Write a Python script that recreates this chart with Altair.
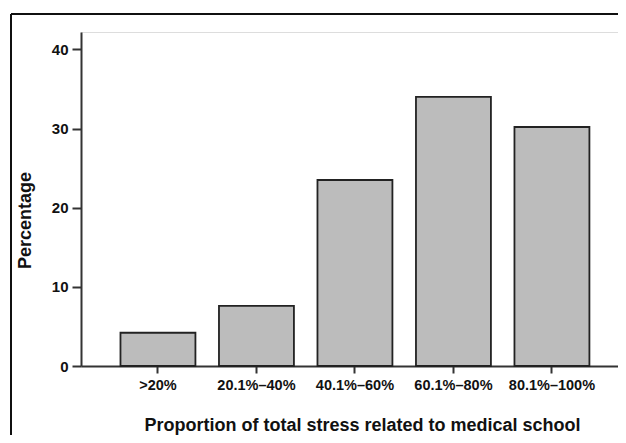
import altair as alt
import pandas as pd

categories = [">20%", "20.1%\u201340%", "40.1%\u201360%", "60.1%\u201380%", "80.1%\u2013100%"]
percentages = [4.2, 7.6, 23.5, 34.0, 30.2]
y_ticks = [0, 10, 20, 30, 40]

df = pd.DataFrame({"cat": categories, "pct": percentages})

FONT = "Liberation Sans"
W, H = 537, 334

bars = alt.Chart(df).mark_bar(
    fill="#bcbcbc", stroke="#222222", strokeWidth=1.8
).encode(
    x=alt.X("cat:N", sort=categories,
            scale=alt.Scale(paddingInner=0.239, paddingOuter=0.3455, align=0.58),
            axis=alt.Axis(
                title="Proportion of total stress related to medical school",
                labelAngle=0, labelFont=FONT, labelFontSize=14.5, labelFontWeight="bold",
                labelColor="#111", labelPadding=5,
                tickSize=7, tickColor="#333", tickWidth=2,
                domainColor="#333", domainWidth=2,
                titleFont=FONT, titleFontSize=18, titleFontWeight="bold", titleColor="#111",
                titleX=281, titleY=59, titleBaseline="middle", titleAlign="center",
            )),
    y=alt.Y("pct:Q",
            scale=alt.Scale(domain=[0, 42.2], nice=False, zero=True),
            axis=alt.Axis(
                title="Percentage", values=y_ticks, grid=False,
                labelFont=FONT, labelFontSize=15, labelFontWeight="bold", labelColor="#111",
                labelPadding=4, tickSize=9, tickColor="#333", tickWidth=2,
                domainColor="#333", domainWidth=2,
                titleFont=FONT, titleFontSize=18, titleFontWeight="bold", titleColor="#111",
                titleX=-56, titleY=188, titleBaseline="middle", titleAngle=-90, titleAlign="center",
            )),
)

frame_left = alt.Chart(df).mark_rule(color="#111", strokeWidth=1.5).encode(
    x=alt.value(-70), y=alt.value(-18), y2=alt.value(H + 90)
)
frame_top = alt.Chart(df).mark_rule(color="#111", strokeWidth=1.5).encode(
    x=alt.value(-70), x2=alt.value(W + 20), y=alt.value(-18)
)

chart = alt.layer(bars, frame_left, frame_top).properties(
    width=W, height=H,
    autosize=alt.AutoSizeParams(type="none"),
    padding={"left": 73, "top": 24, "right": 0, "bottom": 69},
).configure_view(stroke=None).configure(background="white")

chart.save("out.html", embed_options={"renderer": "svg", "actions": False})
